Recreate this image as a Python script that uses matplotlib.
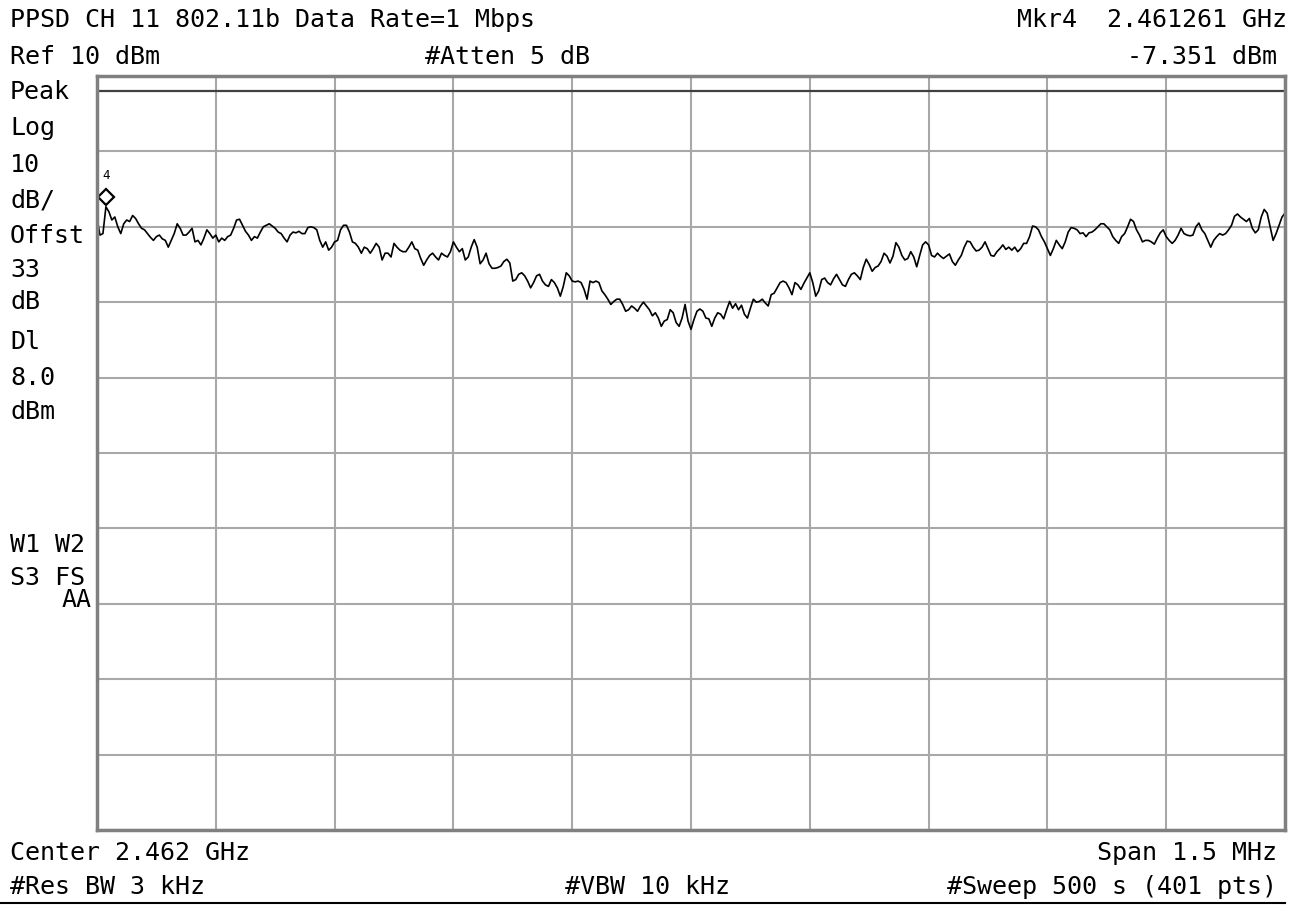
import numpy as np
import matplotlib
matplotlib.use('Agg')
import matplotlib.pyplot as plt
import matplotlib.transforms as mtransforms

# 掃引設定
center_ghz = 2.462
span_mhz = 1.5
ref_level = 10.0
db_per_div = 10.0
display_line = 8.0
marker_idx = 3

# トレース (dBm) 401点, 画像から読み取り
seg1 = [-8.9, -11.1, -10.9, -7.351, -8.0, -9.1, -8.7, -10.0, -10.9, -9.6,
        -9.1, -9.3, -8.5, -8.9, -9.6, -10.2, -10.4, -10.9, -11.4, -11.8,
        -11.3, -11.1, -11.6, -11.8, -12.7, -11.8, -10.9, -9.6, -10.2, -11.1,
        -11.1, -10.7, -10.2, -12.0, -11.8, -12.4, -11.5, -10.4, -10.9, -11.5,
        -11.1, -12.0, -11.5, -11.8, -11.3, -11.1, -10.2, -9.1, -9.0, -9.8,
        -10.6, -11.1, -11.8, -11.3, -11.5, -10.7, -10.0, -9.8, -9.6, -9.9,
        -10.2, -10.7, -10.9, -11.5, -12.0, -11.1, -10.7, -10.8, -10.6]
seg2 = [-10.9, -10.9, -10.1, -10.0, -10.1, -10.4, -11.8, -12.7, -12.0, -13.1,
        -12.7, -12.0, -11.8, -10.4, -9.8, -9.8, -10.7, -12.0, -12.2, -12.7,
        -13.5, -12.7, -12.9, -13.5, -12.9, -12.2, -12.7, -14.4, -13.5, -13.5,
        -14.0, -12.2, -12.7, -13.1, -13.3, -13.3, -12.7, -12.0, -12.9, -13.1,
        -14.2, -15.1, -14.4, -13.8, -13.5, -14.0, -14.4, -13.5, -13.8, -14.0,
        -13.3, -12.0, -12.7, -13.3, -12.9, -14.4, -14.0, -12.7, -11.7, -12.7,
        -14.9, -14.4, -13.5, -14.9, -15.5, -15.5, -15.4]
seg3 = [-15.2, -14.6, -14.3, -14.8, -17.2, -17.0, -16.3, -16.1, -16.5, -17.2,
        -18.1, -17.4, -16.5, -16.3, -17.2, -17.7, -17.9, -17.0, -17.4, -18.1,
        -19.2, -17.9, -16.1, -16.5, -17.2, -17.3, -17.2, -17.4, -18.3, -19.6,
        -17.2, -17.4, -17.2, -17.4, -18.5, -19.0, -19.6, -20.3, -19.9, -19.6,
        -19.6, -20.3, -21.2, -21.0, -20.5, -20.8, -21.2, -20.5, -20.0, -20.5,
        -21.0, -21.8, -21.4, -22.1, -23.2, -22.5, -22.3, -21.0, -21.4, -22.7,
        -23.2, -22.1, -20.3, -22.5, -23.6, -22.3, -21.2]
seg4 = [-20.9, -21.2, -22.1, -22.2, -23.2, -22.1, -21.4, -21.6, -22.2, -21.0,
        -19.9, -20.8, -20.2, -21.0, -20.4, -21.6, -22.1, -20.8, -19.6, -20.0,
        -19.9, -19.6, -20.1, -20.5, -19.0, -18.8, -18.1, -17.4, -17.2, -17.4,
        -18.1, -19.0, -17.4, -17.7, -18.3, -17.5, -16.8, -16.1, -17.4, -19.2,
        -18.5, -17.0, -16.8, -17.4, -17.7, -16.9, -16.3, -17.0, -17.7, -17.9,
        -17.0, -16.3, -16.1, -16.5, -17.0, -15.4, -14.3, -15.0, -15.9, -15.4,
        -15.2, -14.6, -13.5, -13.9, -14.8, -13.9, -12.1]
seg5 = [-12.7, -13.8, -14.4, -14.2, -13.3, -14.0, -15.3, -13.8, -12.4, -12.0,
        -12.4, -13.8, -14.0, -13.5, -13.9, -14.2, -13.9, -13.6, -14.6, -15.1,
        -14.4, -13.8, -12.7, -11.9, -12.0, -12.7, -13.2, -13.1, -12.7, -12.0,
        -12.9, -13.8, -13.9, -13.3, -12.9, -12.4, -13.0, -12.7, -13.1, -12.7,
        -13.3, -12.9, -12.2, -12.2, -11.3, -9.9, -10.0, -10.4, -11.3, -12.0,
        -12.9, -13.8, -12.9, -11.8, -12.4, -12.9, -12.0, -10.7, -10.1, -10.2,
        -10.4, -10.9, -10.8, -11.3, -10.8, -10.7, -10.4, -10.0]
seg6 = [-9.6, -9.6, -10.0, -10.4, -11.3, -11.8, -12.2, -11.3, -10.9, -10.0,
        -9.0, -9.3, -10.4, -11.1, -12.0, -11.8, -11.8, -12.0, -12.3, -11.5,
        -10.8, -10.4, -11.3, -11.8, -12.2, -11.8, -11.1, -10.2, -10.9, -11.1,
        -11.2, -11.1, -10.0, -9.5, -10.4, -10.9, -11.8, -12.7, -11.8, -11.3,
        -10.9, -11.1, -10.9, -10.4, -9.8, -8.6, -8.3, -8.7, -9.0, -9.3,
        -8.9, -10.2, -10.8, -10.4, -8.7, -7.7, -8.2, -10.0, -11.8, -10.9,
        -9.8, -8.7, -8.2]

trace = np.array(seg1 + seg2 + seg3 + seg4 + seg5 + seg6)
f_start = center_ghz - span_mhz / 2000
f_stop = center_ghz + span_mhz / 2000
freq = np.linspace(f_start, f_stop, len(trace))

W, H = 1297, 905
fig = plt.figure(figsize=(W / 100, H / 100), dpi=100)
ax = fig.add_axes([97 / W, 1 - 830 / H, (1285 - 97) / W, (830 - 76) / H])

ax.set_xlim(f_start, f_stop)
ax.set_ylim(ref_level - 10 * db_per_div, ref_level)
ax.set_xticks(np.linspace(f_start, f_stop, 11))
ax.set_yticks(np.linspace(ref_level - 10 * db_per_div, ref_level, 11))
ax.tick_params(length=0, labelbottom=False, labelleft=False)
ax.grid(True, color='#a8a8a8', lw=1.5)
for s in ax.spines.values():
    s.set_color('#808080')
    s.set_linewidth(2.5)

ax.axhline(display_line, color='#404040', lw=1.6)
ax.plot(freq, trace, color='black', lw=1.2)

# マーカー
off = mtransforms.offset_copy(ax.transData, fig=fig, x=0, y=10, units='dots')
ax.plot(freq[marker_idx], trace[marker_idx], marker='D', ms=8, mfc='white',
        mec='black', mew=1.6, transform=off, clip_on=False)
off2 = mtransforms.offset_copy(ax.transData, fig=fig, x=0, y=31, units='dots')
ax.text(freq[marker_idx], trace[marker_idx], '4', transform=off2,
        ha='center', va='center', fontsize=9, family='DejaVu Sans Mono')

mono = dict(family='DejaVu Sans Mono', fontsize=18, va='center')


def ftext(x, y, s, ha='left'):
    fig.text(x / W, 1 - y / H, s, ha=ha, **mono)


ftext(10, 20, 'PPSD CH 11 802.11b Data Rate=1 Mbps')
ftext(10, 57, 'Ref 10 dBm')
ftext(425, 57, '#Atten 5 dB')
ftext(1287, 20, 'Mkr4  2.461261 GHz', ha='right')
ftext(1277, 57, '-7.351 dBm', ha='right')

left_labels = [('Peak', 92), ('Log', 128), ('10', 165), ('dB/', 200),
               ('Offst', 236), ('33', 270), ('dB', 302), ('Dl', 342),
               ('8.0', 378), ('dBm', 412), ('W1 W2', 545), ('S3 FS', 578)]
for s, y in left_labels:
    ftext(10, y, s)
ftext(92, 600, 'AA', ha='right')

ftext(10, 853, 'Center 2.462 GHz')
ftext(1277, 853, 'Span 1.5 MHz', ha='right')
ftext(10, 887, '#Res BW 3 kHz')
ftext(565, 887, '#VBW 10 kHz')
ftext(1277, 887, '#Sweep 500 s (401 pts)', ha='right')

fig.add_artist(plt.Line2D([0, 1285 / W], [1 - 903 / H, 1 - 903 / H],
                          color='black', lw=1.5))

fig.savefig('out.png', dpi=100)
